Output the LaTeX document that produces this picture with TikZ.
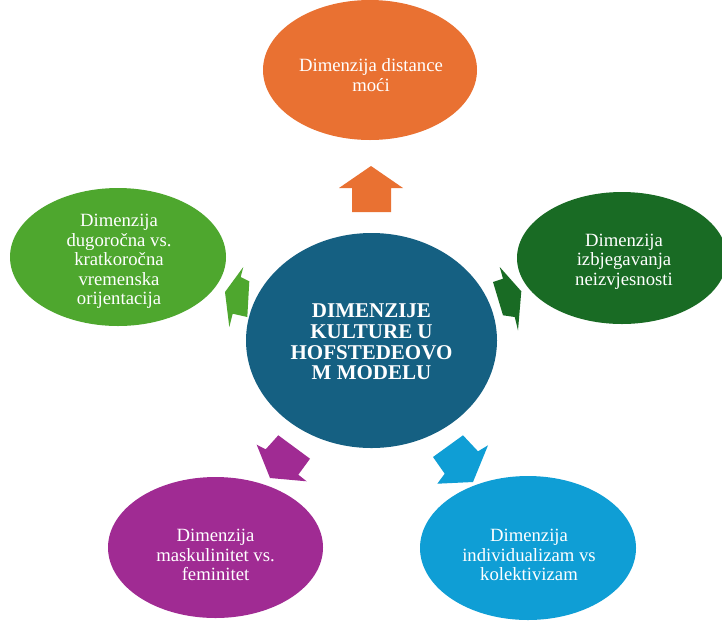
\documentclass[tikz,border=0pt]{standalone}
\usepackage{fontspec}
\setmainfont{Liberation Serif}
\usetikzlibrary{shapes.geometric}
\definecolor{cOrange}{HTML}{E97132}
\definecolor{cDarkGreen}{HTML}{196B24}
\definecolor{cLightGreen}{HTML}{4EA72E}
\definecolor{cPurple}{HTML}{A02B93}
\definecolor{cBlue}{HTML}{0F9ED5}
\definecolor{cCenter}{HTML}{156082}
\begin{document}
\begin{tikzpicture}[x=1pt,y=-1pt,
  blob/.style={ellipse, inner sep=0pt, draw=none},
  sattext/.style={text=white, align=center, inner sep=0pt, font=\fontsize{18.7}{19.5}\selectfont},
  centertext/.style={text=white, align=center, inner sep=0pt, font=\fontsize{21}{20.6}\selectfont\bfseries}]
\useasboundingbox (0,0) rectangle (722,622);
\fill[white] (0,0) rectangle (722,622);

% ellipses
\node[blob, fill=cCenter, minimum width=251pt, minimum height=215pt] (center) at (371.5,340.5) {};
\node[blob, fill=cOrange, minimum width=214pt, minimum height=140pt] (top) at (370,70) {};
\node[blob, fill=cDarkGreen, minimum width=210pt, minimum height=132pt] (right) at (622,258) {};
\node[blob, fill=cLightGreen, minimum width=216pt, minimum height=138pt] (left) at (118,257) {};
\node[blob, fill=cPurple, minimum width=215pt, minimum height=141pt] (botleft) at (215.5,547.5) {};
\node[blob, fill=cBlue, minimum width=216pt, minimum height=144pt] (botright) at (528,548) {};

% arrows
\fill[cOrange] (371,166) -- (403,188) -- (391,188) -- (391,212) -- (352,212) -- (352,188) -- (339,188) -- cycle;
\fill[cLightGreen] (243.3,267) -- (240.7,277) -- (249.3,281.3) -- (247.3,317) -- (232.7,313.7) -- (229.3,327) -- (225,292) -- cycle;
\fill[cDarkGreen] (499.7,267) -- (503,278.7) -- (493,282) -- (503,315.3) -- (514.7,317) -- (518,330.3) -- (521.3,291.3) -- cycle;
\fill[cPurple] (256.7,444.7) -- (265.7,449.3) -- (278.3,435.3) -- (310,458.7) -- (298.3,474.7) -- (306.7,481.3) -- (270,478) -- cycle;
\fill[cBlue] (488,445.3) -- (478,451.3) -- (463,435.3) -- (433,457) -- (444.7,473.7) -- (437.3,483.7) -- (473,482) -- cycle;

% texts
\node[centertext] (tc) at (371.5,342) {DIMENZIJE\\KULTURE U\\HOFSTEDEOVO\\M MODELU};
\node[sattext] (tt) at (371,75) {Dimenzija distance\\moći};
\node[sattext] (tr) at (624,261.5) {Dimenzija\\izbjegavanja\\neizvjesnosti};
\node[sattext] (tl) at (119,261.5) {Dimenzija\\dugoročna vs.\\kratkoročna\\vremenska\\orijentacija};
\node[sattext] (tbl) at (215.5,555) {Dimenzija\\maskulinitet vs.\\feminitet};
\node[sattext] (tbr) at (529,555) {Dimenzija\\individualizam vs\\kolektivizam};
\end{tikzpicture}
\end{document}
